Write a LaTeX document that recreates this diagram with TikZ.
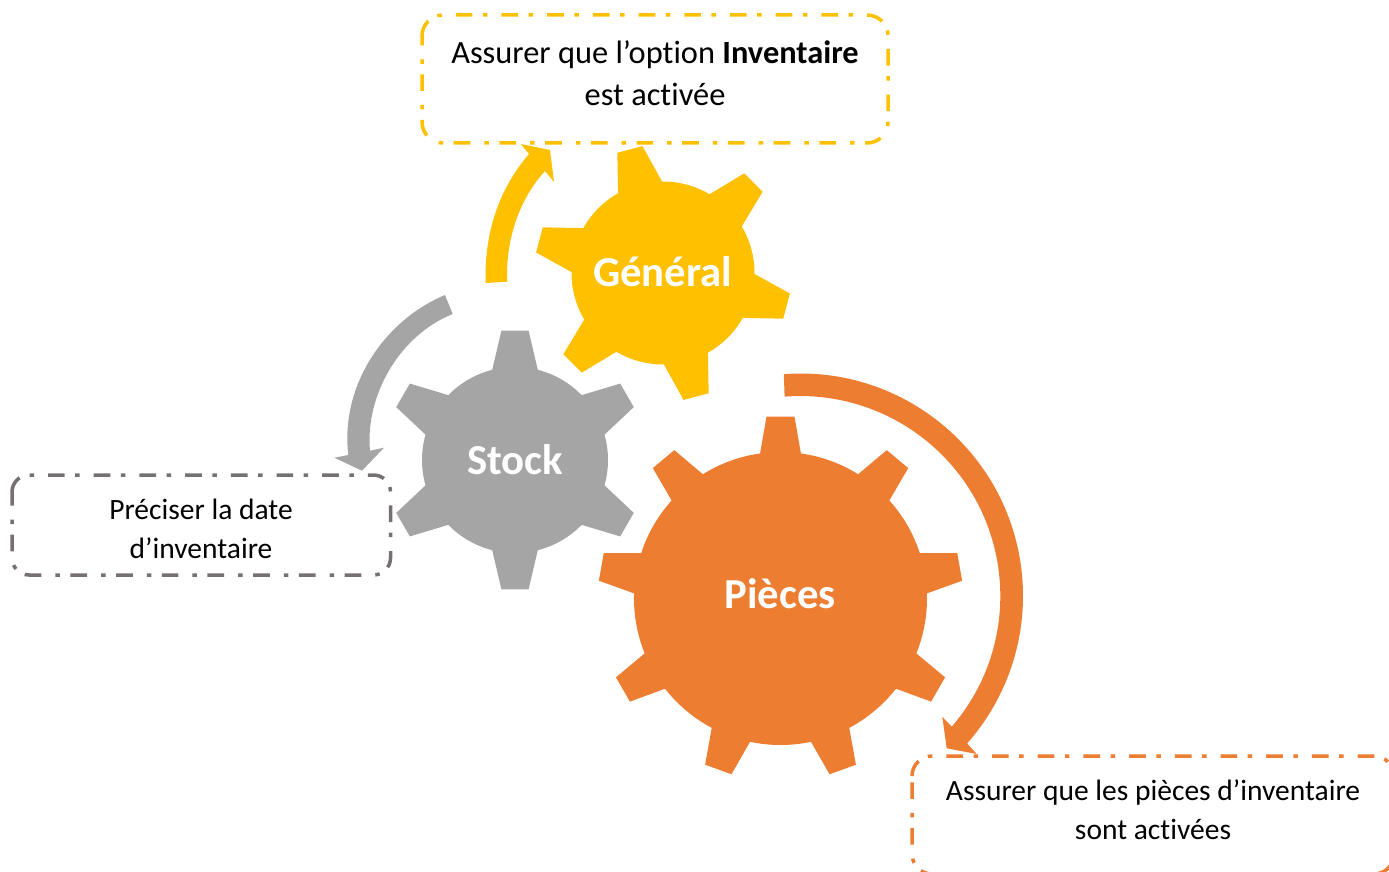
\documentclass[tikz,border=0pt]{standalone}
\usepackage{fontspec}
\setmainfont{Carlito}[Ligatures=NoCommon]
\definecolor{cyellow}{HTML}{FFC000}
\definecolor{cgray}{HTML}{A5A5A5}
\definecolor{cdgray}{HTML}{767171}
\definecolor{corange}{HTML}{ED7D31}
\tikzset{
  gearlabel/.style={text=white,font=\bfseries\fontsize{42.7}{50}\selectfont,inner sep=0pt},
  bigtext/.style={text=black,align=center,font=\fontsize{32.4}{42}\selectfont,inner sep=0pt},
  smalltext/.style={text=black,align=center,font=\fontsize{29.5}{39}\selectfont,inner sep=0pt},
  dashframe/.style={line width=3.5pt,dash pattern=on 16.7pt off 10.5pt on 4.5pt off 14pt},
}
% colour, cx, cy, step, first angle, root radius, tip radius, root half angle, tip half angle
\newcommand{\gearfig}[9]{%
  \pgfmathtruncatemacro{\gearlast}{360/#4-1}%
  \fill[#1,shift={(#2,#3)}] ({#5-#8}:#6)
    \foreach \k in {0,...,\gearlast}{
      -- ({#5+\k*#4-#9}:#7) -- ({#5+\k*#4+#9}:#7) -- ({#5+\k*#4+#8}:#6)
      arc[start angle={#5+\k*#4+#8},end angle={#5+(\k+1)*#4-#8},radius=#6]
    } -- cycle;}
% colour, left, top, right, bottom, radius
\newcommand{\dashedframe}[6]{%
  \draw[dashframe,#1] (#2,#3+#6) arc[start angle=180,end angle=270,radius=#6]
    -- (#4-#6,#3) arc[start angle=270,end angle=360,radius=#6]
    -- (#4,#5-#6) arc[start angle=0,end angle=90,radius=#6]
    -- (#2+#6,#5) arc[start angle=90,end angle=180,radius=#6] -- cycle;}
\begin{document}
\begin{tikzpicture}[x=1pt,y=-1pt]
\useasboundingbox (0,0) rectangle (1389,872);
\clip (0,0) rectangle (1389,872);
% gears
\gearfig{cyellow}{663}{273}{60}{-105}{91.5}{128.6}{14.4}{5.8}
\gearfig{cgray}{515}{460}{60}{-90}{93}{130}{14.2}{6}
\gearfig{corange}{780.5}{598.5}{40}{-90}{146.5}{182.5}{8}{4.4}
% curved arrows
\fill[cyellow] (485.7,283) .. controls (484,235) and (498,190) .. (529,154)
  -- (520.7,144) -- (550,150) -- (554,182) -- (545,171)
  .. controls (520,198) and (505,240) .. (507.3,281.7) -- cycle;
\fill[cgray] (445,295) .. controls (385,320) and (340,385) .. (348.3,455)
  -- (334.3,457.7) -- (362,470.7) -- (384,447.7) -- (370,450.7)
  .. controls (365,395) and (400,335) .. (452.7,314) -- cycle;
\coordinate (oc) at (800.5,596);
\fill[corange] (oc) ++(-94.3:222.5) arc[start angle=-94.3,end angle=41.5,radius=222.5]
  -- (976.7,754) -- (946.7,748.3) -- (942.3,716.7) -- (951.7,726.7)
  arc[start angle=40.8,end angle=-94.5,radius=200] -- cycle;
% frames
\dashedframe{cyellow}{422}{15}{888}{143}{21}
\dashedframe{cdgray}{12}{475}{390.5}{575}{17}
\dashedframe{corange}{912}{756}{1394}{874}{20}
% labels
\node[gearlabel] (general) at (662.7,271.5) {Général};
\node[gearlabel] (stock) at (515,459.5) {Stock};
\node[gearlabel] (pieces) at (780.3,593.5) {Pièces};
\node[bigtext] (t1) at (655,73) {Assurer que l’option \textbf{Inventaire}\\est activée};
\node[smalltext] (t2) at (201,529) {Préciser la date\\d’inventaire};
\node[smalltext] (t3) at (1153,810) {Assurer que les pièces d’inventaire\\sont activées};
\end{tikzpicture}
\end{document}
